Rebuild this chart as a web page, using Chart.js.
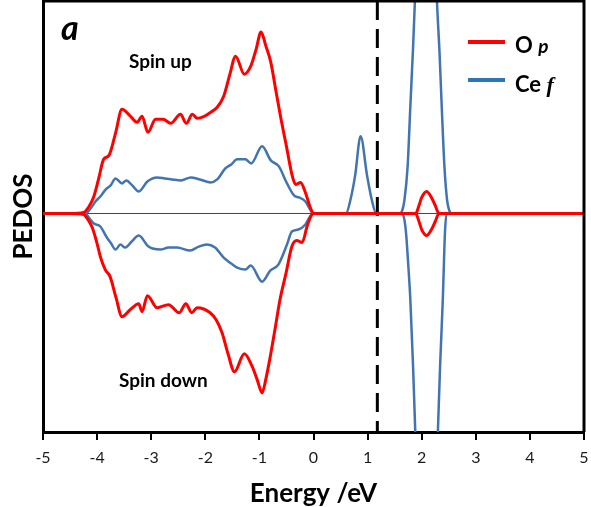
<!DOCTYPE html>
<html>
<head>
<meta charset="utf-8">
<script src="https://cdn.jsdelivr.net/npm/chart.js@4.4.1/dist/chart.umd.min.js"></script>
<style>
  html, body { margin: 0; padding: 0; background: #fff; }
  #wrap { position: relative; width: 591px; height: 507px; overflow: hidden; }
  canvas { position: absolute; left: 0; top: 0; }
  .lbl { position: absolute; font-family: Lato, "Open Sans", sans-serif; color: #000; white-space: nowrap; }
</style>
</head>
<body>
<div id="wrap">
  <canvas id="c" width="591" height="507"></canvas>
  <div class="lbl" style="left:61px; top:10px; font-size:34px; line-height:34px; font-weight:bold; font-style:italic;">a</div>
  <div class="lbl" style="left:129px; top:51px; font-size:19px; line-height:19px; font-weight:bold;">Spin up</div>
  <div class="lbl" style="left:119px; top:370px; font-size:19px; line-height:19px; font-weight:bold;">Spin down</div>
  <div style="position:absolute; left:468px; top:40px; width:37px; height:4px; background:#ff0000;"></div>
  <div style="position:absolute; left:468px; top:78px; width:37px; height:4px; background:#2e75b6;"></div>
  <div class="lbl" style="left:515px; top:34px; font-size:22px; line-height:22px; font-weight:bold;">O <i style="font-size:19px;">p</i></div>
  <div class="lbl" style="left:515px; top:73px; font-size:22px; line-height:22px; font-weight:bold;">Ce <i style="font-family:'Liberation Serif',serif;">f</i></div>
</div>
<script>
// Energy tick labels (eV)
const energyTicks = [-5, -4, -3, -2, -1, 0, 1, 2, 3, 4, 5];
const fermiLevel = 1.18;

// O p, spin up
const opUpE = [-5, -4.5, -4.25, -4.15, -4.06, -3.97, -3.88, -3.78, -3.66, -3.54, -3.40, -3.26, -3.17, -3.06, -2.92, -2.78, -2.64, -2.46, -2.35, -2.24, -2.15, -2.02, -1.90, -1.78, -1.66, -1.55, -1.44, -1.28, -1.16, -1.06, -0.97, -0.88, -0.79, -0.70, -0.61, -0.50, -0.39, -0.33, -0.24, -0.15, -0.06, 0, 0.5, 1.0, 1.5, 1.89, 1.95, 2.0, 2.09, 2.18, 2.25, 2.32, 2.6, 3.5, 5];
const opUpV = [0, 0, 1, 7, 17, 35, 54, 58, 80, 104, 98, 91, 97, 81, 94, 94, 90, 99, 90, 99, 95, 97, 101, 106, 117, 138, 157, 139, 147, 164, 181, 167, 151, 124, 97, 67, 37, 29, 31, 21, 6, 0, 0, 0, 0, 0, 8, 16, 22, 16, 8, 0, 0, 0, 0];

// O p, spin down
const opDnE = [-5, -4.5, -4.25, -4.17, -4.09, -4.0, -3.94, -3.85, -3.76, -3.65, -3.54, -3.39, -3.23, -3.17, -3.07, -2.89, -2.68, -2.48, -2.36, -2.25, -2.15, -1.91, -1.80, -1.69, -1.58, -1.46, -1.28, -1.13, -1.04, -0.95, -0.88, -0.80, -0.71, -0.62, -0.51, -0.40, -0.31, -0.21, -0.12, -0.05, 0, 0.5, 1.0, 1.5, 1.89, 1.95, 2.0, 2.09, 2.18, 2.25, 2.32, 2.6, 3.5, 5];
const opDnV = [0, 0, -1, -6, -14, -30, -43, -56, -63, -84, -103, -96, -90, -98, -82, -94, -91, -99, -90, -99, -94, -99, -106, -119, -140, -158, -140, -153, -166, -179, -165, -143, -115, -86, -60, -33, -27, -29, -13, -3, 0, 0, 0, 0, 0, -8, -16, -22, -16, -8, 0, 0, 0, 0];

// Ce f, spin up
const ceUpE = [-5, -4.5, -4.22, -4.12, -4.03, -3.94, -3.84, -3.75, -3.66, -3.54, -3.46, -3.35, -3.23, -3.07, -2.89, -2.75, -2.61, -2.45, -2.27, -2.10, -1.90, -1.78, -1.63, -1.52, -1.41, -1.26, -1.15, -0.95, -0.79, -0.64, -0.49, -0.36, -0.27, -0.15, -0.04, 0, 0.3, 0.60, 0.68, 0.77, 0.87, 0.99, 1.08, 1.16, 1.4, 1.60, 1.64, 1.68, 1.74, 1.79, 1.84, 1.88, 1.95, 2.02, 2.08, 2.15, 2.22, 2.28, 2.33, 2.37, 2.42, 2.47, 2.51, 2.55, 2.65, 3.5, 5];
const ceUpV = [0, 0, 0, 5, 12, 17, 24, 28, 35, 30, 33, 28, 22, 32, 36, 35, 34, 33, 36, 34, 31, 34, 45, 49, 54, 54, 50, 67, 53, 47, 30, 18, 16, 12, 2, 0, 0, 0, 13, 38, 77, 38, 13, 0, 0, 0, 3, 13, 47, 107, 165, 220, 320, 380, 395, 380, 320, 215, 160, 107, 47, 13, 3, 0, 0, 0, 0];

// Ce f, spin down
const ceDnE = [-5, -4.5, -4.22, -4.14, -4.06, -3.94, -3.82, -3.74, -3.66, -3.57, -3.48, -3.36, -3.23, -3.05, -2.83, -2.68, -2.52, -2.28, -2.12, -1.97, -1.82, -1.66, -1.52, -1.41, -1.26, -1.16, -0.95, -0.80, -0.65, -0.49, -0.40, -0.28, -0.15, -0.04, 0, 0.5, 1.2, 1.60, 1.66, 1.71, 1.75, 1.79, 1.84, 1.88, 1.95, 2.02, 2.08, 2.15, 2.22, 2.30, 2.34, 2.39, 2.43, 2.46, 2.50, 3.5, 5];
const ceDnV = [0, 0, 0, -5, -10, -13, -24, -30, -36, -31, -34, -28, -22, -33, -36, -34, -34, -37, -33, -31, -34, -44, -50, -54, -56, -52, -68, -57, -51, -31, -18, -16, -11, -1, 0, 0, 0, 0, -2, -19, -50, -86, -152, -216, -330, -420, -450, -420, -330, -216, -152, -86, -19, 0, 0, 0, 0];

const toPts = (E, V) => E.map((e, i) => ({ x: e, y: V[i] }));

const RED = '#ff0000';
const BLUE = '#4274b0';

const decor = {
  id: 'decor',
  beforeDatasetsDraw(chart) {
    const { ctx, chartArea: a, scales: { x, y } } = chart;
    const y0 = y.getPixelForValue(0);
    ctx.save();
    ctx.strokeStyle = '#444';
    ctx.lineWidth = 1;
    ctx.beginPath();
    ctx.moveTo(a.left, y0);
    ctx.lineTo(a.right, y0);
    ctx.stroke();
    const xf = x.getPixelForValue(fermiLevel);
    ctx.strokeStyle = '#000';
    ctx.lineWidth = 3;
    ctx.setLineDash([19, 9]);
    ctx.beginPath();
    ctx.moveTo(xf, a.top);
    ctx.lineTo(xf, a.bottom);
    ctx.stroke();
    ctx.restore();
  },
  afterDatasetsDraw(chart) {
    const { ctx, chartArea: a } = chart;
    ctx.save();
    ctx.strokeStyle = '#000';
    ctx.lineWidth = 3;
    ctx.beginPath();
    ctx.moveTo(a.left, a.top);
    ctx.lineTo(a.right, a.top);
    ctx.lineTo(a.right, a.bottom);
    ctx.stroke();
    ctx.restore();
  }
};

const common = { fill: false, pointRadius: 0, cubicInterpolationMode: 'monotone' };

new Chart(document.getElementById('c'), {
  type: 'line',
  data: {
    datasets: [
      { label: 'O p up', data: toPts(opUpE, opUpV), borderColor: RED, borderWidth: 3, order: 0, ...common },
      { label: 'O p down', data: toPts(opDnE, opDnV), borderColor: RED, borderWidth: 3, order: 0, ...common },
      { label: 'Ce f up', data: toPts(ceUpE, ceUpV), borderColor: BLUE, borderWidth: 2.5, order: 1, ...common },
      { label: 'Ce f down', data: toPts(ceDnE, ceDnV), borderColor: BLUE, borderWidth: 2.5, order: 1, ...common }
    ]
  },
  options: {
    responsive: false,
    animation: false,
    devicePixelRatio: 1,
    layout: { padding: { top: 1, right: 7, left: 0, bottom: 0 } },
    plugins: { legend: { display: false }, tooltip: { enabled: false } },
    scales: {
      x: {
        type: 'linear',
        min: -5, max: 5,
        afterFit(s) { s.height = 75; s.paddingLeft = 0; s.paddingRight = 0; },
        afterBuildTicks(s) { s.ticks = energyTicks.map(v => ({ value: v })); },
        ticks: { color: '#1a1a1a', font: { family: 'Lato', size: 16 }, padding: 8, maxRotation: 0 },
        grid: { display: true, drawOnChartArea: false, drawTicks: true, tickLength: 8, color: '#000', lineWidth: 2 },
        border: { display: true, color: '#000', width: 3 },
        title: { display: true, text: 'Energy /eV', color: '#000', font: { family: 'Lato', size: 26, weight: 'bold', lineHeight: 1 }, padding: { top: 0, bottom: 0 } }
      },
      y: {
        min: -218, max: 212,
        afterFit(s) { s.width = 43; },
        ticks: { display: false },
        grid: { display: false },
        border: { display: true, color: '#000', width: 3 },
        title: { display: true, text: 'PEDOS', color: '#000', font: { family: 'Lato', size: 26, weight: 'bold', lineHeight: 1 }, padding: { top: 11, bottom: 0 } }
      }
    }
  },
  plugins: [decor]
});
</script>
</body>
</html>
